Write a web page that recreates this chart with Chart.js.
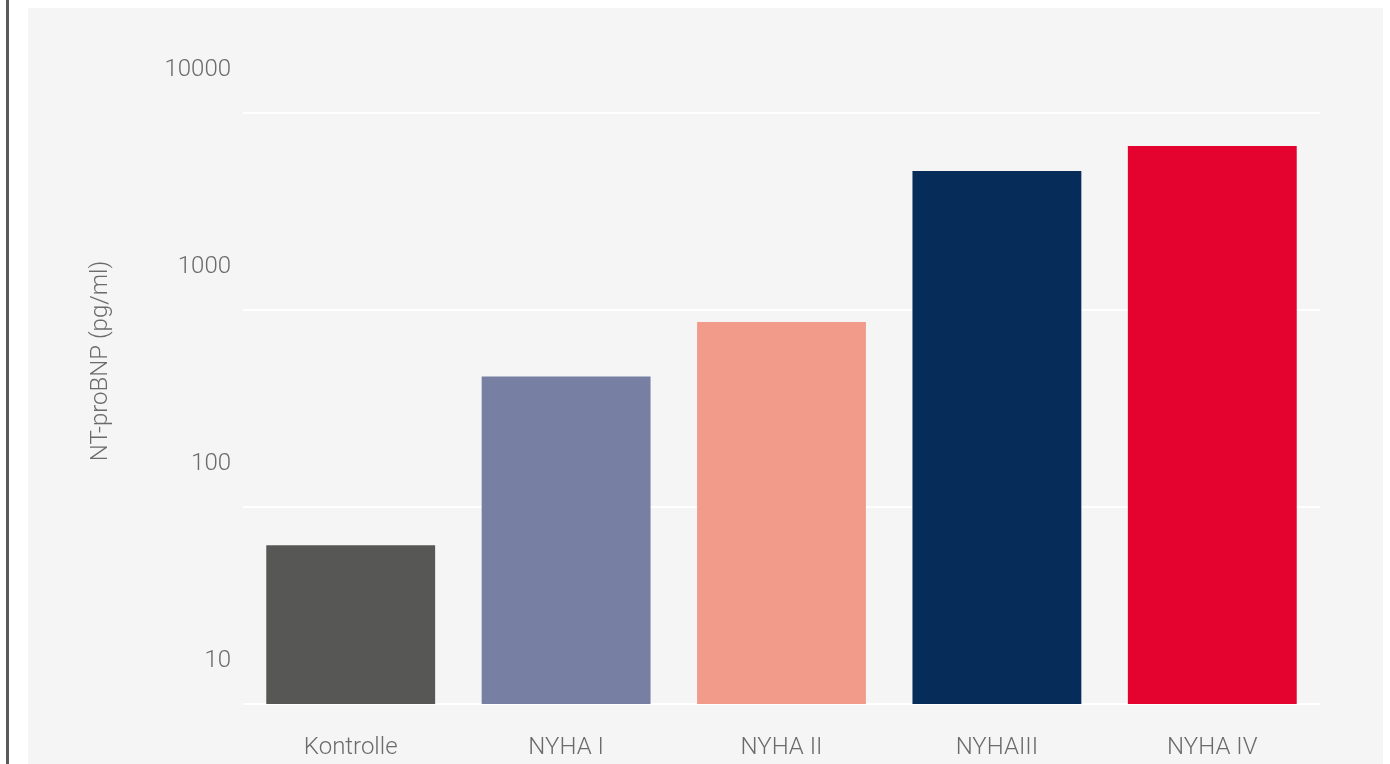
<!DOCTYPE html>
<html>
<head>
<meta charset="utf-8">
<script src="https://cdn.jsdelivr.net/npm/chart.js@4"></script>
<style>
  html, body { margin: 0; padding: 0; background: #fff; }
  body { width: 1390px; height: 764px; position: relative; overflow: hidden; }
  #rule { position: absolute; left: 6px; top: 0; width: 3px; height: 764px; background: #5a5a5a; }
  #panel { position: absolute; left: 28px; top: 8px; width: 1355px; height: 756px; background: #f5f5f5; }
  #chart { position: absolute; left: 0; top: 0; }
</style>
</head>
<body>
<div id="rule"></div>
<div id="panel"></div>
<canvas id="chart" width="1390" height="764"></canvas>
<script>
const categories = ['Kontrolle', 'NYHA I', 'NYHA II', 'NYHAIII', 'NYHA IV'];
const values = [64, 460, 870, 5080, 6800];
const barColors = ['#575755', '#777fa3', '#f29b8b', '#062c59', '#e4032e'];
const yTicks = [10, 100, 1000, 10000];
const yTitle = 'NT-proBNP (pg/ml)';

const fontFamily = 'Roboto, "Liberation Sans", Arial, sans-serif';
const textColor = '#6b6b6b';

// y-axis title sits a bit above the axis middle, like the tick labels
const yTitlePlugin = {
    id: 'yTitle',
    afterDraw(chart) {
        const ctx = chart.ctx;
        ctx.save();
        ctx.translate(101, 361);
        ctx.rotate(-Math.PI / 2);
        ctx.font = '300 24px ' + fontFamily;
        ctx.fillStyle = textColor;
        ctx.textAlign = 'center';
        ctx.textBaseline = 'middle';
        ctx.fillText(yTitle, 0, 0);
        ctx.restore();
    }
};

new Chart(document.getElementById('chart'), {
    type: 'bar',
    data: {
        labels: categories,
        datasets: [{
            data: values,
            backgroundColor: barColors,
            barPercentage: 0.784,
            categoryPercentage: 1
        }]
    },
    options: {
        responsive: false,
        animation: false,
        layout: { padding: { left: 0, top: 113, right: 70, bottom: 0 } },
        plugins: { legend: { display: false }, tooltip: { enabled: false } },
        scales: {
            x: {
                grid: { display: false },
                border: { display: false },
                ticks: {
                    padding: 22,
                    color: textColor,
                    font: { family: fontFamily, size: 24, weight: '300' }
                },
                afterFit: s => { s.height = 60; }
            },
            y: {
                type: 'logarithmic',
                min: 10,
                max: 10000,
                grid: { color: '#ffffff', lineWidth: 2, drawTicks: false },
                border: { display: false },
                afterBuildTicks: s => { s.ticks = yTicks.map(v => ({ value: v })); },
                ticks: {
                    padding: 12,
                    labelOffset: -43,
                    color: textColor,
                    font: { family: fontFamily, size: 24, weight: '300' },
                    callback: v => String(v)
                },
                afterFit: s => { s.width = 243; }
            }
        }
    },
    plugins: [yTitlePlugin]
});
</script>
</body>
</html>
